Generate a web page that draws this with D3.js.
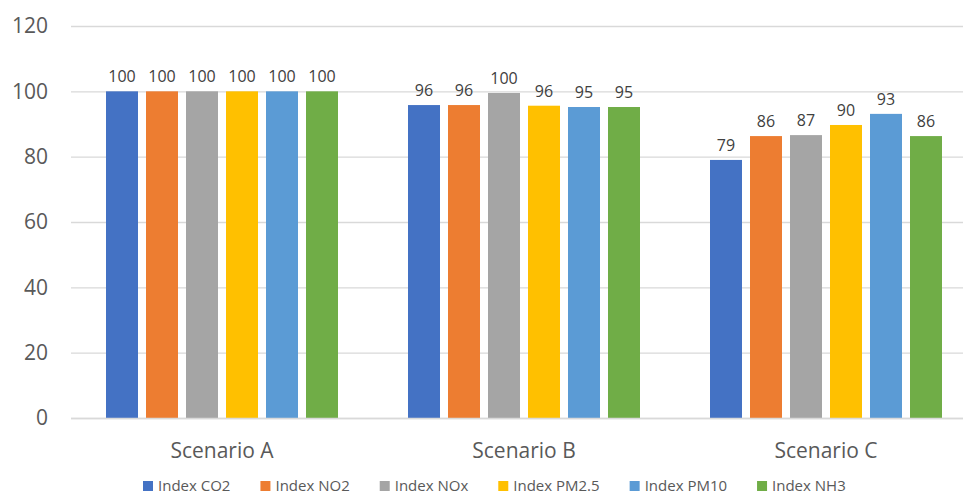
<!DOCTYPE html>
<html>
<head>
<meta charset="utf-8">
<script src="https://cdn.jsdelivr.net/npm/d3@7"></script>
<style>
  body { margin: 0; background: #fff; }
  text { font-family: "Open Sans", "Noto Sans", sans-serif; }
</style>
</head>
<body>
<svg id="chart" width="964" height="494"></svg>
<script>
// chart data
const categories = ["Scenario A", "Scenario B", "Scenario C"];
const seriesNames = ["Index CO2", "Index NO2", "Index NOx", "Index PM2.5", "Index PM10", "Index NH3"];
const co2 = [100, 95.8, 79.0];
const no2 = [100, 95.8, 86.3];
const nox = [100, 99.5, 86.6];
const pm25 = [100, 95.6, 89.7];
const pm10 = [100, 95.2, 93.1];
const nh3 = [100, 95.2, 86.3];
const yTicks = [0, 20, 40, 60, 80, 100, 120];
const colors = ["#4472C4", "#ED7D31", "#A5A5A5", "#FFC000", "#5B9BD5", "#70AD47"];

const seriesValues = [co2, no2, nox, pm25, pm10, nh3];
const rows = categories.map(function(c, i) {
  return { cat: c, vals: seriesNames.map(function(s, j) { return { name: s, value: seriesValues[j][i], color: colors[j] }; }) };
});

const svg = d3.select("#chart");
const plotLeft = 71, plotRight = 977, plotTop = 26, plotBottom = 418;

const x = d3.scaleBand().domain(categories).range([plotLeft, plotRight]);
const x1 = d3.scaleBand().domain(seriesNames).range([35, x.bandwidth() - 35]).paddingInner(0.2).paddingOuter(0);
const y = d3.scaleLinear().domain([0, 120]).range([plotBottom, plotTop]);

// gridlines
svg.append("g")
  .selectAll("line")
  .data(yTicks)
  .join("line")
  .attr("x1", plotLeft)
  .attr("x2", 963)
  .attr("y1", function(d) { return y(d) + 0.5; })
  .attr("y2", function(d) { return y(d) + 0.5; })
  .attr("stroke", "#D9D9D9")
  .attr("stroke-width", 1.3);

// y axis labels
svg.append("g")
  .attr("transform", `translate(48,0)`)
  .call(d3.axisLeft(y).tickValues(yTicks).tickSize(0).tickPadding(0))
  .call(function(g) { g.select(".domain").remove(); })
  .selectAll("text")
  .attr("font-size", "21px")
  .attr("fill", "#595959")
  .style("font-family", "'Open Sans', sans-serif");

// bars
const groups = svg.append("g")
  .selectAll("g")
  .data(rows)
  .join("g")
  .attr("transform", function(d) { return `translate(${x(d.cat)},0)`; });

groups.selectAll("rect")
  .data(function(d) { return d.vals; })
  .join("rect")
  .attr("x", function(d) { return x1(d.name); })
  .attr("y", function(d) { return y(d.value); })
  .attr("width", x1.bandwidth())
  .attr("height", function(d) { return y(0) - y(d.value); })
  .attr("fill", function(d) { return d.color; });

groups.selectAll("text")
  .data(function(d) { return d.vals; })
  .join("text")
  .attr("x", function(d) { return x1(d.name) + x1.bandwidth() / 2; })
  .attr("y", function(d) { return y(d.value) - 9; })
  .attr("text-anchor", "middle")
  .attr("font-size", "16px")
  .attr("fill", "#404040")
  .text(function(d) { return d3.format(".0f")(d.value); });

// baseline redraw on top
svg.append("line")
  .attr("x1", plotLeft).attr("x2", 963)
  .attr("y1", y(0) + 0.5).attr("y2", y(0) + 0.5)
  .attr("stroke", "#D9D9D9").attr("stroke-width", 1.3);

// category labels
svg.append("g")
  .selectAll("text")
  .data(categories)
  .join("text")
  .attr("x", function(d) { return x(d) + x.bandwidth() / 2; })
  .attr("y", 458)
  .attr("text-anchor", "middle")
  .attr("font-size", "21px")
  .attr("fill", "#595959")
  .text(function(d) { return d; });

// legend
const legend = svg.append("g");
let cursor = 0;
seriesNames.forEach(function(name, i) {
  const item = legend.append("g").attr("transform", `translate(${cursor},0)`);
  item.append("rect").attr("x", 0).attr("y", -5).attr("width", 10).attr("height", 10).attr("fill", colors[i]);
  const t = item.append("text")
    .attr("x", 15)
    .attr("y", 5)
    .attr("font-size", "15px")
    .attr("fill", "#595959")
    .text(name);
  cursor += 15 + t.node().getComputedTextLength() + 30;
});
legend.attr("transform", `translate(143,486)`);
</script>
</body>
</html>
